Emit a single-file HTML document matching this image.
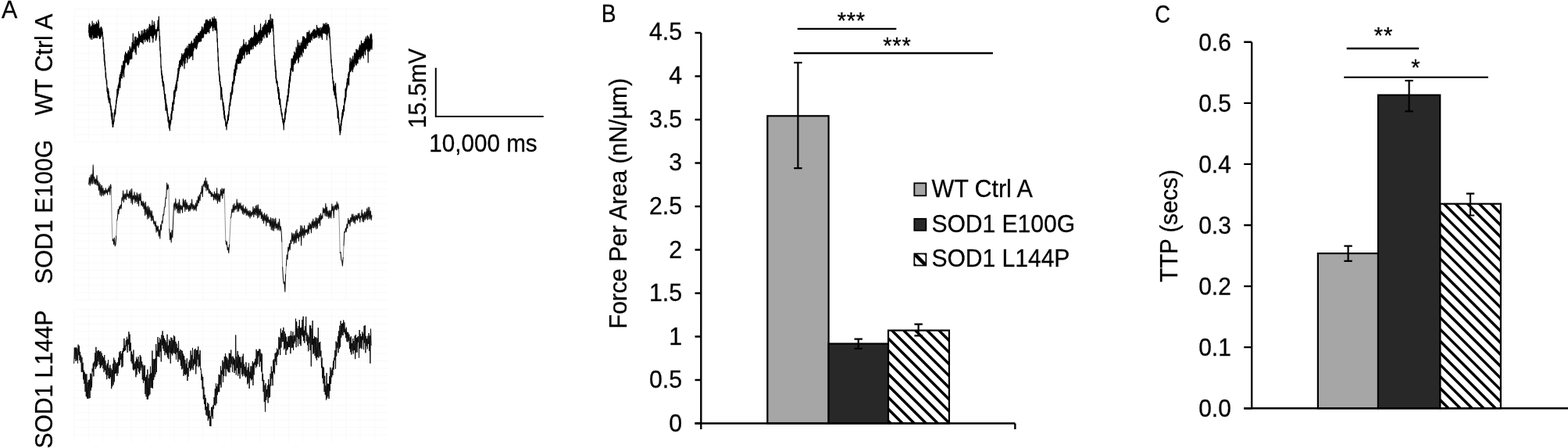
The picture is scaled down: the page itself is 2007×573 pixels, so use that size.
<!DOCTYPE html>
<html lang="en"><head><meta charset="utf-8"><title>Figure</title>
<style>
html,body{margin:0;padding:0;background:#fff;}
body{width:2007px;height:573px;overflow:hidden;}
svg{display:block;font-family:'Liberation Sans', Arial, Helvetica, sans-serif;fill:#000;}
text{stroke:#000;stroke-width:0.3px;}
</style></head><body>
<svg width="2007" height="573" viewBox="0 0 2007 573">
<g class="grid">
<path d="M95 11.5V181.5M113.3 11.5V181.5M131.6 11.5V181.5M149.9 11.5V181.5M168.2 11.5V181.5M186.5 11.5V181.5M204.8 11.5V181.5M223.1 11.5V181.5M241.4 11.5V181.5M259.7 11.5V181.5M278 11.5V181.5M296.3 11.5V181.5M314.6 11.5V181.5M332.9 11.5V181.5M351.2 11.5V181.5M369.5 11.5V181.5M387.8 11.5V181.5M406.1 11.5V181.5M424.4 11.5V181.5M442.7 11.5V181.5M461 11.5V181.5M479.3 11.5V181.5M95 11.5H497M95 20.9H497M95 30.4H497M95 39.8H497M95 49.3H497M95 58.8H497M95 68.2H497M95 77.7H497M95 87.1H497M95 96.6H497M95 106H497M95 115.5H497M95 124.9H497M95 134.4H497M95 143.8H497M95 153.2H497M95 162.7H497M95 172.1H497M95 181.6H497" stroke="#f9f9f9" stroke-width="1" fill="none"/>
<path d="M95 213.5V383.5M113.3 213.5V383.5M131.6 213.5V383.5M149.9 213.5V383.5M168.2 213.5V383.5M186.5 213.5V383.5M204.8 213.5V383.5M223.1 213.5V383.5M241.4 213.5V383.5M259.7 213.5V383.5M278 213.5V383.5M296.3 213.5V383.5M314.6 213.5V383.5M332.9 213.5V383.5M351.2 213.5V383.5M369.5 213.5V383.5M387.8 213.5V383.5M406.1 213.5V383.5M424.4 213.5V383.5M442.7 213.5V383.5M461 213.5V383.5M479.3 213.5V383.5M95 213.5H497M95 222.9H497M95 232.4H497M95 241.8H497M95 251.3H497M95 260.7H497M95 270.2H497M95 279.6H497M95 289.1H497M95 298.5H497M95 308H497M95 317.4H497M95 326.9H497M95 336.3H497M95 345.8H497M95 355.2H497M95 364.7H497M95 374.1H497M95 383.6H497" stroke="#f9f9f9" stroke-width="1" fill="none"/>
<path d="M95 395.5V565.5M113.3 395.5V565.5M131.6 395.5V565.5M149.9 395.5V565.5M168.2 395.5V565.5M186.5 395.5V565.5M204.8 395.5V565.5M223.1 395.5V565.5M241.4 395.5V565.5M259.7 395.5V565.5M278 395.5V565.5M296.3 395.5V565.5M314.6 395.5V565.5M332.9 395.5V565.5M351.2 395.5V565.5M369.5 395.5V565.5M387.8 395.5V565.5M406.1 395.5V565.5M424.4 395.5V565.5M442.7 395.5V565.5M461 395.5V565.5M479.3 395.5V565.5M95 395.5H497M95 404.9H497M95 414.4H497M95 423.8H497M95 433.3H497M95 442.7H497M95 452.2H497M95 461.6H497M95 471.1H497M95 480.5H497M95 490H497M95 499.4H497M95 508.9H497M95 518.3H497M95 527.8H497M95 537.2H497M95 546.7H497M95 556.2H497" stroke="#f9f9f9" stroke-width="1" fill="none"/>
</g>
<path class="tr" d="M113.6,41.7 113.9,32.1 114.2,45.8 114.5,30 114.8,47.7 115.1,31.4 115.4,47.4 115.7,36.9 116,49.9 116.3,34.9 116.6,47.4 116.9,33.3 117.2,44.8 117.5,33.4 117.8,50.4 118.1,27 118.4,44.6 118.7,31.9 119,43.3 119.3,37.2 119.6,48.7 119.9,29.8 120.2,48.9 120.5,32.4 120.8,43.3 121.1,37.7 121.4,47.3 121.7,30.9 122,48.4 122.3,34.9 122.6,42.5 122.9,31.4 123.2,48 123.5,28.2 123.8,41.8 124.1,32.9 124.4,48.6 124.7,30.3 125,44.4 125.3,34.8 125.6,43.8 125.9,25.6 126.2,46.1 126.5,27.9 126.8,46.4 127.1,35.8 127.4,49.3 127.7,36.8 128,49.2 128.3,37.6 128.6,48.5 128.9,35 129.2,43.8 129.5,34.3 129.8,46.5 130.1,35.5 130.4,43.7 130.7,37.2 131,43.2 131.3,40.8 131.6,50.3 131.9,47.5 132.2,60.1 132.5,54.4 132.8,68.8 133.1,63.3 133.4,78.4 133.7,69 134,84.1 134.3,78.2 134.6,89.3 134.9,86.1 135.2,99.2 135.5,92.8 135.8,101.4 136.1,100.5 136.4,107.8 136.7,102.7 137,117 137.3,111.6 137.6,119.3 137.9,113.2 138.2,125 138.5,113.5 138.8,127.6 139.1,116.6 139.4,130.9 139.7,122.4 140,131.3 140.3,125.3 140.6,132.3 140.9,126 141.2,137 141.5,132.8 141.8,140.7 142.1,135.6 142.4,148.7 142.7,139.6 143,152.5 143.3,144.8 143.6,158.1 143.9,144.5 144.2,162.5 144.5,156.2 144.8,162.1 145.1,155.1 145.4,158.4 145.7,152.5 146,155.4 146.3,143.6 146.6,149.6 146.9,140.3 147.2,147.1 147.5,139.9 147.8,145.5 148.1,134.8 148.4,137.9 148.7,128 149,132.4 149.3,123.9 149.6,128.2 149.9,114.1 150.2,124.6 150.5,114.5 150.8,121.9 151.1,109.8 151.4,119.6 151.7,107.8 152,115.5 152.3,105.3 152.6,111.4 152.9,99.1 153.2,106.8 153.5,95.4 153.8,112.3 154.1,95.9 154.4,103 154.7,92.3 155,99.3 155.3,89.4 155.6,94.7 155.9,83.7 156.2,100.1 156.5,86.6 156.8,96.7 157.1,84.1 157.4,93.4 157.7,78.5 158,87.9 158.3,80.6 158.6,98.6 158.9,77.4 159.2,88.6 159.5,71.1 159.8,86 160.1,69.2 160.4,80.5 160.7,66.4 161,76 161.3,68.5 161.6,79.4 161.9,68.4 162.2,77.2 162.5,71 162.8,81.2 163.1,69 163.4,82.8 163.7,66.4 164,82.8 164.3,64.5 164.6,81.7 164.9,67.5 165.2,79.8 165.5,66.6 165.8,71.6 166.1,59.4 166.4,75.9 166.7,61.2 167,75.9 167.3,62.8 167.6,70.9 167.9,65.1 168.2,74.7 168.5,59.8 168.8,75.2 169.1,54.6 169.4,66.7 169.7,57.3 170,65.3 170.3,42.9 170.6,65.6 170.9,57.9 171.2,62 171.5,56.5 171.8,61.9 172.1,51.9 172.4,63.1 172.7,47.4 173,66.8 173.3,48.2 173.6,63.5 173.9,47.2 174.2,69.7 174.5,54.1 174.8,58.9 175.1,51.1 175.4,58 175.7,48.3 176,57.7 176.3,49.6 176.6,56.3 176.9,49.4 177.2,60.6 177.5,40.4 177.8,57.9 178.1,49.6 178.4,56 178.7,43.7 179,53.4 179.3,46.1 179.6,52 179.9,48.5 180.2,53.5 180.5,44.8 180.8,53.8 181.1,39.3 181.4,51 181.7,44.8 182,54.4 182.3,45.3 182.6,49.7 182.9,39.2 183.2,56.2 183.5,45 183.8,50.3 184.1,42.8 184.4,50.3 184.7,37.4 185,49.3 185.3,42.8 185.6,53.3 185.9,38.3 186.2,46.7 186.5,42.2 186.8,49.5 187.1,42.5 187.4,51.1 187.7,38.4 188,46.4 188.3,37 188.6,53.1 188.9,36.5 189.2,52.7 189.5,38.8 189.8,48.9 190.1,44 190.4,46.7 190.7,34.5 191,50.3 191.3,31 191.6,53.9 191.9,31.3 192.2,43.1 192.5,37.9 192.8,45.5 193.1,33.6 193.4,45.9 193.7,33.4 194,44.4 194.3,32.1 194.6,48.5 194.9,26.2 195.2,47.6 195.5,36.8 195.8,54.1 196.1,32.5 196.4,48.9 196.7,34.8 197,43.4 197.3,27.7 197.6,44.9 197.9,30.7 198.2,40.3 198.5,37.1 198.8,43.2 199.1,37.9 199.4,51.8 199.7,39.4 200,49.8 200.3,38 200.6,46.8 200.9,37.2 201.2,40.1 201.5,34.4 201.8,38.7 202.1,26.4 202.4,39.5 202.7,25.9 203,33.6 203.3,21 203.6,38.6 203.9,37.7 204.2,52.3 204.5,46.4 204.8,64.4 205.1,59.9 205.4,73 205.7,69.1 206,86.6 206.3,84.2 206.6,95.6 206.9,90.3 207.2,100.1 207.5,94.5 207.8,105 208.1,97.3 208.4,110.1 208.7,103.4 209,109.6 209.3,104.5 209.6,115.2 209.9,107.6 210.2,120.2 210.5,116 210.8,126.7 211.1,120.4 211.4,130.9 211.7,120.9 212,141.1 212.3,126.9 212.6,136.2 212.9,132.1 213.2,141.7 213.5,134.6 213.8,145.1 214.1,138.4 214.4,148.7 214.7,145.1 215,155.2 215.3,149.2 215.6,156.5 215.9,149.6 216.2,163.1 216.5,154.3 216.8,164.5 217.1,154.8 217.4,167 217.7,153.8 218,160.2 218.3,153.2 218.6,157.8 218.9,145.6 219.2,152.5 219.5,142.7 219.8,153 220.1,137 220.4,144.6 220.7,131.1 221,141.5 221.3,132.7 221.6,141.2 221.9,128.2 222.2,133.1 222.5,116.9 222.8,132.9 223.1,115.4 223.4,126.1 223.7,116.2 224,123.5 224.3,111.3 224.6,117.9 224.9,108.4 225.2,115 225.5,105.7 225.8,115.9 226.1,102.7 226.4,112.7 226.7,99.4 227,100.7 227.3,94.5 227.6,103.5 227.9,87.3 228.2,99 228.5,88.7 228.8,94.6 229.1,82.5 229.4,90.5 229.7,78.2 230,87.7 230.3,77.7 230.6,85.2 230.9,76.6 231.2,85.3 231.5,76.2 231.8,82 232.1,72.9 232.4,82.7 232.7,68.7 233,83.1 233.3,69.9 233.6,84.6 233.9,72.6 234.2,77.6 234.5,70.4 234.8,77.4 235.1,68.4 235.4,80.5 235.7,71.4 236,87.7 236.3,67.1 236.6,77.9 236.9,63 237.2,80.9 237.5,68.3 237.8,74 238.1,61.3 238.4,73.1 238.7,61.8 239,73.5 239.3,61.7 239.6,80.1 239.9,58.8 240.2,69.6 240.5,65.1 240.8,75.5 241.1,62.4 241.4,70.8 241.7,56.4 242,69.6 242.3,57.6 242.6,74.8 242.9,56.4 243.2,72.2 243.5,56.3 243.8,72.7 244.1,60 244.4,70.5 244.7,54.3 245,71.8 245.3,52.4 245.6,70.8 245.9,58.8 246.2,65.8 246.5,55.8 246.8,76.5 247.1,55 247.4,65.5 247.7,59.3 248,63.8 248.3,49.6 248.6,59.7 248.9,54.5 249.2,60.8 249.5,50.7 249.8,60.8 250.1,47.4 250.4,58.9 250.7,49.5 251,62.7 251.3,45.4 251.6,62.4 251.9,50.9 252.2,60.5 252.5,45.9 252.8,57.2 253.1,51 253.4,54.9 253.7,42.3 254,53.5 254.3,47.3 254.6,53.6 254.9,42.7 255.2,53.1 255.5,46.6 255.8,51.9 256.1,40.4 256.4,53.1 256.7,42.2 257,51.5 257.3,39.5 257.6,52.5 257.9,37.5 258.2,48.3 258.5,34.1 258.8,48.3 259.1,35.4 259.4,45.4 259.7,38.5 260,48.2 260.3,37.8 260.6,47.1 260.9,34.8 261.2,43.2 261.5,30.9 261.8,40.2 262.1,30 262.4,42.8 262.7,33.2 263,39 263.3,26.1 263.6,43.6 263.9,25.3 264.2,35.9 264.5,26.3 264.8,42.8 265.1,25.2 265.4,40.6 265.7,26.5 266,40.1 266.3,26.9 266.6,40.6 266.9,27.5 267.2,36.3 267.5,31.2 267.8,42.3 268.1,26.1 268.4,36.2 268.7,24.6 269,35.9 269.3,24.9 269.6,35.1 269.9,27.3 270.2,33.3 270.5,28.7 270.8,32.6 271.1,28.9 271.4,32.9 271.7,22.5 272,35.9 272.3,27.9 272.6,39.5 272.9,24.2 273.2,35.3 273.5,27 273.8,34.8 274.1,21.3 274.4,34 274.7,24 275,38.3 275.3,26.2 275.6,36.5 275.9,24.1 276.2,38.6 276.5,24.7 276.8,33.9 277.1,27.6 277.4,42.3 277.7,36.5 278,53.4 278.3,49 278.6,66.6 278.9,61.6 279.2,78.6 279.5,72.8 279.8,90 280.1,85.9 280.4,96.4 280.7,93.9 281,104.2 281.3,96.9 281.6,108.6 281.9,104.2 282.2,111.7 282.5,108.3 282.8,127.3 283.1,113.9 283.4,122.9 283.7,111.9 284,123.4 284.3,121 284.6,128.8 284.9,126.4 285.2,135.6 285.5,130.2 285.8,140.6 286.1,131.6 286.4,146.5 286.7,135.5 287,151.1 287.3,141.6 287.6,152.6 287.9,147.7 288.2,154.4 288.5,152.2 288.8,161.1 289.1,155.7 289.4,159.8 289.7,158.4 290,166 290.3,157.4 290.6,158.3 290.9,153.8 291.2,158 291.5,147.8 291.8,154.3 292.1,146.1 292.4,153.4 292.7,142.5 293,148.6 293.3,134.8 293.6,141 293.9,131.7 294.2,135.3 294.5,126.9 294.8,135.1 295.1,118.7 295.4,129.2 295.7,119.8 296,126.4 296.3,115.8 296.6,119.7 296.9,111.3 297.2,120.8 297.5,104.9 297.8,118.1 298.1,104.7 298.4,109.3 298.7,102.7 299,106.4 299.3,93.4 299.6,106.8 299.9,88.9 300.2,103 300.5,90.2 300.8,97 301.1,83 301.4,96.3 301.7,81.1 302,92.8 302.3,76.4 302.6,85.7 302.9,77.4 303.2,88.6 303.5,74.3 303.8,81.5 304.1,70.2 304.4,79 304.7,71 305,80.7 305.3,69.8 305.6,81.5 305.9,67.7 306.2,78.8 306.5,64.4 306.8,80.7 307.1,62.3 307.4,75.5 307.7,62.1 308,80.7 308.3,64.4 308.6,75 308.9,59.4 309.2,76.8 309.5,65.4 309.8,72.6 310.1,60.9 310.4,75 310.7,58.6 311,68.9 311.3,57.2 311.6,70.3 311.9,50.6 312.2,69.7 312.5,56.1 312.8,74.8 313.1,63.5 313.4,68.8 313.7,57 314,65.2 314.3,61.4 314.6,64 314.9,54 315.2,66.4 315.5,58.5 315.8,70.1 316.1,58.4 316.4,69.4 316.7,57.6 317,65.3 317.3,57 317.6,63.8 317.9,59 318.2,68.7 318.5,51.6 318.8,64.3 319.1,52 319.4,69 319.7,53.3 320,64.2 320.3,49.5 320.6,58.1 320.9,53.4 321.2,62.8 321.5,48.7 321.8,58.2 322.1,47.8 322.4,63.1 322.7,51.7 323,59 323.3,48.8 323.6,59.1 323.9,51.9 324.2,62.5 324.5,47.1 324.8,58.4 325.1,45.8 325.4,57.8 325.7,32.4 326,53.4 326.3,41 326.6,58.3 326.9,47 327.2,59.6 327.5,41.8 327.8,56.7 328.1,41.9 328.4,52.6 328.7,42.8 329,56.9 329.3,46.8 329.6,55.5 329.9,44.7 330.2,54.8 330.5,41 330.8,54.5 331.1,43 331.4,52.1 331.7,39.2 332,49.4 332.3,45.3 332.6,56.6 332.9,38.1 333.2,50.2 333.5,30.6 333.8,51.2 334.1,38.7 334.4,54.4 334.7,43.7 335,45.6 335.3,39.5 335.6,51.7 335.9,35.4 336.2,47.2 336.5,34.6 336.8,46.3 337.1,38.3 337.4,44.7 337.7,32.4 338,48.7 338.3,35.4 338.6,43.4 338.9,30.5 339.2,43.7 339.5,35.9 339.8,43.2 340.1,25.9 340.4,45.6 340.7,36.2 341,47.8 341.3,32.2 341.6,41.2 341.9,31.1 342.2,47.7 342.5,29.3 342.8,37.9 343.1,30.4 343.4,41 343.7,26.2 344,40.4 344.3,32.9 344.6,44 344.9,25.7 345.2,39.8 345.5,31.8 345.8,41.2 346.1,18.4 346.4,41 346.7,29.8 347,36.2 347.3,27.6 347.6,33.6 347.9,23.9 348.2,35.7 348.5,30 348.8,34.7 349.1,24.7 349.4,39.9 349.7,31.8 350,44.4 350.3,45.3 350.6,59.7 350.9,57.5 351.2,71.2 351.5,70.4 351.8,83.8 352.1,77.1 352.4,91.8 352.7,84.5 353,100.3 353.3,90.2 353.6,105.9 353.9,100.2 354.2,105.7 354.5,103 354.8,109.2 355.1,104 355.4,116.4 355.7,111.8 356,119.4 356.3,111.5 356.6,126.8 356.9,114.1 357.2,126.8 357.5,118.6 357.8,133.6 358.1,126 358.4,132.3 358.7,126.9 359,136.9 359.3,134.4 359.6,141.9 359.9,139.4 360.2,146.1 360.5,143 360.8,148.7 361.1,144.8 361.4,153 361.7,151.2 362,156.8 362.3,152.4 362.6,159.5 362.9,154.6 363.2,166 363.5,156.8 363.8,157.5 364.1,150.7 364.4,155.5 364.7,143.1 365,152.7 365.3,139.5 365.6,146.6 365.9,137.9 366.2,143.9 366.5,131.9 366.8,136.7 367.1,127.6 367.4,134 367.7,122.7 368,127.6 368.3,122.2 368.6,129.3 368.9,113.9 369.2,124.1 369.5,107.6 369.8,119 370.1,102.1 370.4,111.8 370.7,97.9 371,105.8 371.3,93.3 371.6,103.4 371.9,87.7 372.2,96.4 372.5,87.9 372.8,90.2 373.1,75.4 373.4,89.2 373.7,75.2 374,86.4 374.3,78.6 374.6,91.4 374.9,74.9 375.2,90.8 375.5,71.3 375.8,82 376.1,74.6 376.4,82.6 376.7,66.1 377,80.1 377.3,68.3 377.6,79.8 377.9,67.9 378.2,81.1 378.5,68.9 378.8,74.2 379.1,60.3 379.4,77 379.7,62.3 380,73.5 380.3,65.3 380.6,74.4 380.9,51.4 381.2,76.2 381.5,61.9 381.8,80.5 382.1,58 382.4,78.3 382.7,54.9 383,72.7 383.3,59.1 383.6,70.9 383.9,58.6 384.2,73.2 384.5,61.2 384.8,70.3 385.1,54.6 385.4,69.6 385.7,55.8 386,65 386.3,57.7 386.6,72.1 386.9,52.3 387.2,64 387.5,47.1 387.8,65.5 388.1,46.5 388.4,67.3 388.7,50.7 389,61.6 389.3,47.4 389.6,61.1 389.9,48.1 390.2,62.1 390.5,50.1 390.8,62.3 391.1,49.6 391.4,61.8 391.7,51.5 392,61.8 392.3,48.7 392.6,56.2 392.9,41.6 393.2,53.2 393.5,46.7 393.8,58.5 394.1,41.2 394.4,54.3 394.7,47.2 395,54.3 395.3,41.3 395.6,51 395.9,39.2 396.2,53.8 396.5,43.8 396.8,49.2 397.1,44.1 397.4,54.1 397.7,44.4 398,50.1 398.3,42.2 398.6,49.1 398.9,42.1 399.2,51.5 399.5,43.1 399.8,48.2 400.1,39.8 400.4,45.8 400.7,40.1 401,44.1 401.3,37.9 401.6,49.2 401.9,41.9 402.2,48.9 402.5,37.8 402.8,47.8 403.1,37.5 403.4,48.3 403.7,39.4 404,46.5 404.3,39.4 404.6,47.5 404.9,40.4 405.2,47.4 405.5,32.4 405.8,46.9 406.1,35.5 406.4,43.9 406.7,35.6 407,43.6 407.3,39.6 407.6,45.5 407.9,36.5 408.2,48.7 408.5,37.1 408.8,45.2 409.1,35.7 409.4,43.1 409.7,39.2 410,47.5 410.3,40 410.6,45.2 410.9,35 411.2,45.6 411.5,37.2 411.8,47.9 412.1,36.7 412.4,50.5 412.7,34.8 413,40 413.3,33.5 413.6,41.7 413.9,30 414.2,42.7 414.5,32 414.8,40.3 415.1,31.8 415.4,42.2 415.7,31.1 416,42.3 416.3,29.8 416.6,43.2 416.9,32.4 417.2,40.4 417.5,32.8 417.8,44 418.1,29.4 418.4,50.9 418.7,33.7 419,45.3 419.3,31.4 419.6,42.9 419.9,35.2 420.2,40.7 420.5,31.4 420.8,41.4 421.1,34 421.4,47.5 421.7,35.9 422,48.7 422.3,46.6 422.6,57 422.9,59.9 423.2,67.6 423.5,69.8 423.8,80.3 424.1,76.2 424.4,84.9 424.7,83.5 425,93.1 425.3,87.3 425.6,101 425.9,98.5 426.2,106.8 426.5,104.4 426.8,115.4 427.1,103.9 427.4,117.5 427.7,108.1 428,121.5 428.3,110.5 428.6,121 428.9,112.3 429.2,126 429.5,106.7 429.8,124.3 430.1,118.9 430.4,130.7 430.7,124.8 431,136.3 431.3,132.5 431.6,139.8 431.9,135.6 432.2,151.1 432.5,138.6 432.8,150.5 433.1,141.6 433.4,156.3 433.7,150.5 434,159.4 434.3,159.4 434.6,167.4 434.9,161.2 435.2,172.5 435.5,163.2 435.8,169.7 436.1,158 436.4,166.5 436.7,154.2 437,160.4 437.3,149.7 437.6,155.1 437.9,144.1 438.2,151.9 438.5,140.3 438.8,149.4 439.1,142.3 439.4,147 439.7,135.6 440,141.8 440.3,134.5 440.6,142.1 440.9,125.9 441.2,132.8 441.5,125.1 441.8,130.2 442.1,113.5 442.4,127.7 442.7,117 443,124.1 443.3,111.2 443.6,116 443.9,105.4 444.2,113 444.5,100.6 444.8,110.4 445.1,101.1 445.4,107.3 445.7,94.6 446,104 446.3,92.5 446.6,108.8 446.9,91.8 447.2,96.9 447.5,81.7 447.8,91.8 448.1,74 448.4,91.8 448.7,80.5 449,89.9 449.3,79.3 449.6,90.8 449.9,75.1 450.2,84.1 450.5,77.1 450.8,88.5 451.1,80.4 451.4,91.8 451.7,71.9 452,88.3 452.3,77.2 452.6,83.7 452.9,76.7 453.2,85.6 453.5,67.6 453.8,83.8 454.1,73.7 454.4,76.6 454.7,68.8 455,80.6 455.3,67.3 455.6,82.6 455.9,63 456.2,83.6 456.5,69.3 456.8,79.1 457.1,63.4 457.4,80.4 457.7,70.5 458,81.1 458.3,64.6 458.6,73.9 458.9,65.6 459.2,75.6 459.5,61.3 459.8,72.5 460.1,58.9 460.4,72.7 460.7,57.1 461,76.1 461.3,64.8 461.6,70.1 461.9,58.7 462.2,73.9 462.5,52.1 462.8,71.8 463.1,61.7 463.4,65.9 463.7,55.5 464,71.1 464.3,56.6 464.6,71 464.9,55.6 465.2,74.3 465.5,59.4 465.8,68.9 466.1,53.3 466.4,65.2 466.7,58.8 467,64 467.3,49.9 467.6,70.2 467.9,56.8 468.2,62 468.5,47.1 468.8,63.7 469.1,54.1 469.4,61.2 469.7,50.2 470,62.1 470.3,45.6 470.6,65.4 470.9,46.8 471.2,79.9 471.5,47.1 471.8,64.8 472.1,48.6 472.4,63.3 472.7,52.7 473,65.8 473.3,50.3 473.6,61.1 473.9,44.4 474.2,63.2 474.5,45.8 474.8,61.3 475.1,42.9 475.4,61.1 475.7,44.7 476,63.2 476.3,50.6" stroke="#000" stroke-width="1.2" fill="none" stroke-linejoin="round"/>
<path class="tr" d="M142.4,240.9 143.2,284.5 144,308.1M148.8,301.4 149.6,282.4M216,241.7 216.8,292.2M287.2,241 288,275.5 288.8,307.3M293.6,312.2 294.4,297.9 295.2,279.4M360.8,309.6 361.6,341.1M365.6,350.5 366.4,340.5M433.6,267.1 434.4,289.5 435.2,323.8M439.2,329 440,314.4" stroke="#777" stroke-width="0.8" fill="none"/>
<path class="tr" d="M113.6,236.3 114.4,227 115.2,237.4 116,223.7 116.8,235.3 117.6,222.8 118.4,235.3 119.2,210.9 120,234.4 120.8,226.2 121.6,235.8 122.4,228.9 123.2,236.5 124,224.2 124.8,237.2 125.6,231.6 126.4,243.4 127.2,233.5 128,249.5 128.8,235.7 129.6,251 130.4,237.2 131.2,249.8 132,240.3 132.8,250.3 133.6,243.6 134.4,248.2 135.2,240.6 136,247 136.8,242.9 137.6,249.3 138.4,240.8 139.2,245.2 140,237.7 140.8,249.1 141.6,235.7 142.4,240.9M144,308.1 144.8,305.5 145.6,312.8 146.4,304.1 147.2,314.8 148,312.6 148.8,301.4M149.6,282.4 150.4,279.4 151.2,267.6 152,273.8 152.8,263.9 153.6,267.5 154.4,262 155.2,267 156,252.8 156.8,256.4 157.6,243.7 158.4,258.6 159.2,248.1 160,254.6 160.8,247.7 161.6,255.4 162.4,242.8 163.2,251.6 164,248 164.8,253.7 165.6,244.5 166.4,253.8 167.2,242.6 168,259.5 168.8,241.4 169.6,261.3 170.4,250.2 171.2,255 172,245.6 172.8,259.5 173.6,249.9 174.4,257.9 175.2,246.4 176,260.6 176.8,248.2 177.6,263.7 178.4,248.2 179.2,256.7 180,247 180.8,262.7 181.6,257.5 182.4,264.1 183.2,257.3 184,267.1 184.8,259.2 185.6,275.5 186.4,258.2 187.2,274.2 188,264.4 188.8,280.3 189.6,263.4 190.4,279.2 191.2,265.3 192,277.6 192.8,269 193.6,282.4 194.4,269.7 195.2,282 196,276.1 196.8,286.5 197.6,282.9 198.4,289.3 199.2,283 200,297.2 200.8,288.4 201.6,295.6 202.4,289.2 203.2,302.1 204,293.7 204.8,305.3 205.6,287.5 206.4,294.2 207.2,282.5 208,285.4 208.8,274.4 209.6,275.1 210.4,265.1 211.2,264.9 212,252.9 212.8,253.7 213.6,234.1 214.4,242.5 215.2,236.1 216,241.7M216.8,292.2 217.6,306.7 218.4,297.6 219.2,310.1 220,294.6 220.8,304 221.6,284.1 222.4,263.5 223.2,259.3 224,269 224.8,253.9 225.6,267 226.4,260.5 227.2,272.2 228,259.1 228.8,272.8 229.6,255 230.4,272.6 231.2,262.4 232,268 232.8,263.3 233.6,272.1 234.4,254.2 235.2,264.7 236,256.1 236.8,270.5 237.6,255.6 238.4,268 239.2,259 240,267.7 240.8,262.3 241.6,270.5 242.4,262.4 243.2,269.8 244,260.1 244.8,267.4 245.6,254.9 246.4,267.3 247.2,261.5 248,269.3 248.8,262.5 249.6,268.1 250.4,259.7 251.2,269.8 252,256 252.8,263.8 253.6,251.3 254.4,259.6 255.2,248.7 256,256.6 256.8,246.1 257.6,247.6 258.4,237.9 259.2,251.6 260,236 260.8,238.2 261.6,231.5 262.4,239.7 263.2,227.2 264,244 264.8,231.5 265.6,242.9 266.4,236.1 267.2,247.1 268,242.1 268.8,247.7 269.6,244.6 270.4,251.6 271.2,246.2 272,251.3 272.8,248.4 273.6,255.9 274.4,245.1 275.2,254.9 276,247.5 276.8,256.1 277.6,240.5 278.4,260.1 279.2,247.5 280,257.7 280.8,248.2 281.6,258.3 282.4,242.6 283.2,250.2 284,240.8 284.8,253.9 285.6,241.5 286.4,247.4 287.2,241M288.8,307.3 289.6,313 290.4,309.1 291.2,319.8 292,316.6 292.8,323.6 293.6,312.2M295.2,279.4 296,276.6 296.8,267.6 297.6,271.7 298.4,262.1 299.2,271.8 300,260.2 300.8,268.8 301.6,263.4 302.4,267.3 303.2,254.9 304,270.6 304.8,259.4 305.6,270.1 306.4,259.8 307.2,267.1 308,259.5 308.8,269 309.6,263.4 310.4,273.2 311.2,262 312,274.4 312.8,266.7 313.6,272.5 314.4,264.5 315.2,275.5 316,267 316.8,275.3 317.6,269.8 318.4,276.9 319.2,269.3 320,279.1 320.8,269.8 321.6,277 322.4,271.2 323.2,274.9 324,264.4 324.8,277.6 325.6,266.6 326.4,274.4 327.2,263.2 328,275.5 328.8,262.4 329.6,279 330.4,261.7 331.2,278 332,267.2 332.8,275.1 333.6,267.5 334.4,279.8 335.2,271 336,282.5 336.8,274.2 337.6,285.8 338.4,272.6 339.2,282.3 340,274.9 340.8,288.9 341.6,274.1 342.4,284.6 343.2,277.2 344,284.9 344.8,281.1 345.6,289.4 346.4,278.3 347.2,293.8 348,279.5 348.8,294.6 349.6,279.4 350.4,295.1 351.2,280.2 352,292.2 352.8,278.9 353.6,292 354.4,286.2 355.2,294.3 356,284.1 356.8,294.2 357.6,280 358.4,295.1 359.2,289.5 360,294.2 360.8,309.6M361.6,341.1 362.4,355.5 363.2,362.7 364,360.5 364.8,373.2 365.6,350.5M366.4,340.5 367.2,325.9 368,331.6 368.8,316.1 369.6,321.1 370.4,311.5 371.2,319.5 372,307.1 372.8,311.7 373.6,297.8 374.4,308.5 375.2,298.9 376,311.9 376.8,298.9 377.6,310.5 378.4,295.6 379.2,310.7 380,293.5 380.8,304.8 381.6,298.3 382.4,308.5 383.2,296.5 384,302.7 384.8,288.4 385.6,314 386.4,288.8 387.2,301.5 388,291.9 388.8,304.2 389.6,288.6 390.4,300.9 391.2,293.7 392,297.4 392.8,293.3 393.6,300 394.4,288.2 395.2,298.8 396,284.9 396.8,293.1 397.6,286.6 398.4,298 399.2,283.1 400,291.5 400.8,280.1 401.6,291.8 402.4,283 403.2,291 404,278.3 404.8,292.9 405.6,278.8 406.4,292.1 407.2,279.1 408,285.6 408.8,275.3 409.6,288.7 410.4,273.1 411.2,281.1 412,275.8 412.8,279.4 413.6,265.7 414.4,272.3 415.2,266.7 416,276.1 416.8,260.3 417.6,276.5 418.4,264.8 419.2,277.1 420,269.7 420.8,279.4 421.6,269 422.4,278.3 423.2,269 424,279.1 424.8,260.7 425.6,269.3 426.4,264.1 427.2,278.6 428,262.9 428.8,268 429.6,262 430.4,268.7 431.2,258.1 432,268.3 432.8,260.5 433.6,267.1M435.2,323.8 436,322.3 436.8,332.8 437.6,332.9 438.4,340.1 439.2,329M440,314.4 440.8,296.3 441.6,297.2 442.4,291.8 443.2,296.7 444,286.5 444.8,292 445.6,279.2 446.4,286.1 447.2,281.3 448,289.1 448.8,278.3 449.6,283.9 450.4,274.1 451.2,283.3 452,273.7 452.8,284.7 453.6,276.3 454.4,286.3 455.2,275.1 456,281.3 456.8,275.3 457.6,282 458.4,272.9 459.2,279.4 460,272.5 460.8,284.2 461.6,276.4 462.4,278.1 463.2,268.4 464,283.5 464.8,273 465.6,283.9 466.4,271.2 467.2,281.3 468,270.8 468.8,280 469.6,266.7 470.4,281.3 471.2,265 472,280.2 472.8,265 473.6,280 474.4,269.9 475.2,281.6 476,275.3" stroke="#111" stroke-width="1.05" fill="none" stroke-linejoin="round"/>
<path class="tr" d="M94.7,465.1 95.3,444.5 95.9,459.3 96.5,444.8 97.1,462 97.7,444.3 98.3,460.6 98.9,445.6 99.5,464.7 100.1,440.7 100.7,454.3 101.3,442.4 101.9,460.8 102.5,449.9 103.1,463.6 103.7,454.6 104.3,475.9 104.9,457 105.5,475.5 106.1,463.9 106.7,485.4 107.3,473.7 107.9,490.8 108.5,476.4 109.1,501 109.7,478.5 110.3,507.2 110.9,478.4 111.5,509.6 112.1,489 112.7,509.9 113.3,486.1 113.9,509.5 114.5,485.5 115.1,509.1 115.7,477.6 116.3,499.4 116.9,478.5 117.5,495.4 118.1,471.5 118.7,475.5 119.3,464.5 119.9,481.4 120.5,462.4 121.1,468.4 121.7,451.4 122.3,472 122.9,443.9 123.5,469.4 124.1,449.2 124.7,467.7 125.3,448.4 125.9,462.3 126.5,448.2 127.1,466.3 127.7,449.8 128.3,470.9 128.9,449.2 129.5,469.3 130.1,451.6 130.7,467.1 131.3,455.1 131.9,471.2 132.5,457.3 133.1,475.9 133.7,454 134.3,473.5 134.9,461.3 135.5,478.9 136.1,467.5 136.7,485.2 137.3,464.8 137.9,480.2 138.5,460.4 139.1,483.9 139.7,470.7 140.3,484.5 140.9,466.8 141.5,482.3 142.1,471.1 142.7,497.2 143.3,473.1 143.9,494.2 144.5,465.3 145.1,492.1 145.7,457.6 146.3,488.4 146.9,460.5 147.5,478 148.1,463.3 148.7,477.4 149.3,464.8 149.9,480.9 150.5,463.3 151.1,477.5 151.7,457.5 152.3,468.1 152.9,450.3 153.5,467 154.1,449 154.7,460.1 155.3,452.4 155.9,470 156.5,448.9 157.1,468.7 157.7,445.4 158.3,450 158.9,432.9 159.5,448.8 160.1,441.8 160.7,448.1 161.3,435.4 161.9,442.7 162.5,430.8 163.1,451 163.7,433.8 164.3,440.6 164.9,424.2 165.5,449.3 166.1,427.5 166.7,448.4 167.3,438.5 167.9,462.4 168.5,449.7 169.1,465.1 169.7,453.3 170.3,472.7 170.9,447.6 171.5,474.1 172.1,464.8 172.7,472.1 173.3,462.3 173.9,482.3 174.5,456.7 175.1,479.3 175.7,459.5 176.3,471.1 176.9,456.3 177.5,475.6 178.1,462.9 178.7,477.8 179.3,454 179.9,473.7 180.5,455.9 181.1,470.2 181.7,462.5 182.3,485.5 182.9,466.3 183.5,490 184.1,468 184.7,487 185.3,467.1 185.9,504.1 186.5,482.5 187.1,507.3 187.7,479.6 188.3,510.9 188.9,472.6 189.5,510.5 190.1,483.6 190.7,506.2 191.3,478.8 191.9,504.4 192.5,468.6 193.1,496.1 193.7,477.3 194.3,495.9 194.9,448.5 195.5,496.8 196.1,459 196.7,485.9 197.3,459.6 197.9,482.3 198.5,458.7 199.1,478.8 199.7,440.1 200.3,476 200.9,448.7 201.5,455.6 202.1,431.1 202.7,455.9 203.3,438.1 203.9,456.7 204.5,432.1 205.1,449.9 205.7,434.3 206.3,462.6 206.9,428.4 207.5,441.4 208.1,423.3 208.7,446.1 209.3,429.4 209.9,449 210.5,432.8 211.1,454.3 211.7,434.9 212.3,451.1 212.9,437.7 213.5,453.4 214.1,427.7 214.7,457.3 215.3,441.8 215.9,459.2 216.5,434.2 217.1,451.1 217.7,436.1 218.3,464.9 218.9,431.6 219.5,452.3 220.1,432.5 220.7,454.6 221.3,435.2 221.9,451.6 222.5,428.9 223.1,451.6 223.7,430.4 224.3,452.9 224.9,437 225.5,459.8 226.1,439.6 226.7,450.6 227.3,445.1 227.9,462.9 228.5,436.2 229.1,459.3 229.7,449 230.3,460.4 230.9,446.8 231.5,468 232.1,448.1 232.7,472.4 233.3,448.8 233.9,471.4 234.5,452.7 235.1,480.8 235.7,455.3 236.3,478.6 236.9,460.2 237.5,479.8 238.1,465.4 238.7,478.4 239.3,458.4 239.9,487.1 240.5,470.7 241.1,481.6 241.7,462.8 242.3,470.5 242.9,460.5 243.5,474.6 244.1,448.5 244.7,472.9 245.3,454.2 245.9,470.7 246.5,444.9 247.1,473.1 247.7,459.5 248.3,467.5 248.9,447.3 249.5,465.4 250.1,445.9 250.7,478.4 251.3,448.1 251.9,468.4 252.5,447.7 253.1,459.9 253.7,443.1 254.3,469.5 254.9,453.2 255.5,468.1 256.1,448.1 256.7,472.7 257.3,471.7 257.9,486.3 258.5,478.6 259.1,497.5 259.7,481.9 260.3,510.5 260.9,494.8 261.5,517 262.1,504.8 262.7,524.3 263.3,509.2 263.9,530.7 264.5,520.3 265.1,531.9 265.7,514.9 266.3,538.1 266.9,516.4 267.5,535.2 268.1,525.1 268.7,545 269.3,532.4 269.9,545.2 270.5,520.9 271.1,532.4 271.7,520.4 272.3,535.5 272.9,518 273.5,523.1 274.1,508 274.7,518.1 275.3,497.3 275.9,518.6 276.5,490.4 277.1,516.2 277.7,494.3 278.3,505.1 278.9,491 279.5,501.3 280.1,478.9 280.7,501.3 281.3,479.9 281.9,492.1 282.5,468.3 283.1,495.6 283.7,473.8 284.3,478.8 284.9,460.8 285.5,489 286.1,463 286.7,480.9 287.3,456 287.9,471.7 288.5,452.1 289.1,481.3 289.7,456.1 290.3,472.2 290.9,457.9 291.5,474.9 292.1,460.3 292.7,476.2 293.3,451.7 293.9,476.4 294.5,452.1 295.1,469.9 295.7,447.5 296.3,465.4 296.9,456.3 297.5,475.9 298.1,455.7 298.7,466.5 299.3,457.9 299.9,477 300.5,459.9 301.1,473.8 301.7,428.5 302.3,479.5 302.9,456.3 303.5,470.5 304.1,449 304.7,480.7 305.3,453.8 305.9,477.9 306.5,456.7 307.1,484.3 307.7,456.6 308.3,470.5 308.9,463.4 309.5,478.8 310.1,455.8 310.7,481.3 311.3,452.6 311.9,478.3 312.5,465.7 313.1,480.7 313.7,469 314.3,482.8 314.9,463.3 315.5,481.4 316.1,473.1 316.7,491.4 317.3,469.8 317.9,489.9 318.5,464.4 319.1,497 319.7,475.6 320.3,483.8 320.9,468.3 321.5,486.6 322.1,468.5 322.7,485.2 323.3,462.2 323.9,492.9 324.5,464.6 325.1,479.5 325.7,462.7 326.3,466.5 326.9,458.8 327.5,470.6 328.1,446.8 328.7,468.7 329.3,449 329.9,465.8 330.5,448.9 331.1,455.6 331.7,446.5 332.3,469.2 332.9,446.7 333.5,462.4 334.1,451.6 334.7,475.4 335.3,452.7 335.9,487.4 336.5,478 337.1,501.2 337.7,485.9 338.3,514 338.9,492.8 339.5,526.6 340.1,490.3 340.7,511.8 341.3,498.1 341.9,507.7 342.5,492.8 343.1,515.4 343.7,485 344.3,508.9 344.9,491.6 345.5,507.9 346.1,477.9 346.7,493.5 347.3,468.6 347.9,484.2 348.5,475 349.1,493.2 349.7,460.7 350.3,476.4 350.9,459.1 351.5,478.4 352.1,451.8 352.7,462.4 353.3,450.7 353.9,467.1 354.5,445.6 355.1,456.1 355.7,447.1 356.3,453.6 356.9,430.9 357.5,446.9 358.1,432 358.7,454.1 359.3,420.3 359.9,444.7 360.5,425.8 361.1,437.3 361.7,422.5 362.3,436.9 362.9,418.8 363.5,447.3 364.1,423.9 364.7,445.6 365.3,426.8 365.9,454 366.5,430.8 367.1,448.3 367.7,436.8 368.3,446.6 368.9,430.4 369.5,444 370.1,429.9 370.7,444 371.3,429.2 371.9,452.2 372.5,423.4 373.1,444.9 373.7,429.6 374.3,444.6 374.9,424.2 375.5,448 376.1,429.5 376.7,439.2 377.3,428.6 377.9,436.6 378.5,407.6 379.1,444.2 379.7,411.4 380.3,431.3 380.9,419.9 381.5,442.8 382.1,417 382.7,433.5 383.3,409.1 383.9,440.1 384.5,419.5 385.1,442.3 385.7,418.8 386.3,428.7 386.9,408.9 387.5,430.6 388.1,404.7 388.7,436.1 389.3,422.7 389.9,438.7 390.5,417 391.1,428.9 391.7,404.9 392.3,436.4 392.9,425.7 393.5,441.3 394.1,428.4 394.7,449.3 395.3,430.8 395.9,439 396.5,415.9 397.1,448 397.7,416.4 398.3,468.6 398.9,420.3 399.5,440.8 400.1,410.1 400.7,452.9 401.3,433.1 401.9,451.6 402.5,429.9 403.1,455.2 403.7,431.4 404.3,458.3 404.9,431.6 405.5,461 406.1,432.7 406.7,456.5 407.3,419.1 407.9,457.7 408.5,438.4 409.1,455.5 409.7,437 410.3,456.1 410.9,448.6 411.5,470.4 412.1,457.7 412.7,483.6 413.3,468.8 413.9,490.5 414.5,470 415.1,501.2 415.7,480.8 416.3,504.9 416.9,493.3 417.5,511.6 418.1,477 418.7,509.5 419.3,490.7 419.9,507.3 420.5,490.9 421.1,510 421.7,481.3 422.3,500.2 422.9,469.9 423.5,490.9 424.1,473.2 424.7,482.5 425.3,470.6 425.9,479.9 426.5,461.7 427.1,472.7 427.7,457.7 428.3,460.8 428.9,447.9 429.5,471.7 430.1,436.6 430.7,455.5 431.3,438.2 431.9,444.9 432.5,430 433.1,451.2 433.7,423.3 434.3,446.1 434.9,416.6 435.5,443.7 436.1,410.4 436.7,431.8 437.3,414 437.9,428.8 438.5,413.4 439.1,428.9 439.7,409.5 440.3,424.8 440.9,412.4 441.5,427.3 442.1,420.7 442.7,432.2 443.3,418.7 443.9,436.7 444.5,424.7 445.1,437.5 445.7,425.3 446.3,435.9 446.9,427.6 447.5,446.2 448.1,431.5 448.7,450.4 449.3,430.2 449.9,453.6 450.5,439.2 451.1,448.6 451.7,432.9 452.3,452.5 452.9,436 453.5,447.9 454.1,429.6 454.7,459.2 455.3,428.1 455.9,450.6 456.5,432.3 457.1,450.7 457.7,430.8 458.3,437.8 458.9,430 459.5,457.6 460.1,422 460.7,445.6 461.3,427.1 461.9,444.7 462.5,430.3 463.1,446.3 463.7,424.4 464.3,434.7 464.9,426.7 465.5,447.1 466.1,416.8 466.7,438.6 467.3,416 467.9,451.3 468.5,429.9 469.1,442.7 469.7,433.2 470.3,446.4 470.9,429.7 471.5,439.7 472.1,426.1 472.7,449 473.3,429.4 473.9,464.8 474.5,420.6 475.1,442.1" stroke="#050505" stroke-width="0.95" fill="none" stroke-linejoin="round"/>
<text id="A" transform="translate(2.1 22.7) scale(0.950 1)" font-size="32">A</text>
<text id="B" transform="translate(769.8 27.8) scale(0.880 1)" font-size="32">B</text>
<text id="C" transform="translate(1478.3 29) scale(0.850 1)" font-size="32">C</text>
<text id="l1" transform="translate(67.2 147.5) rotate(-90) scale(0.938 1)" font-size="32.0" word-spacing="1.0">WT Ctrl A</text>
<text id="l2" transform="translate(67.2 363.2) rotate(-90) scale(0.943 1)" font-size="32.0">SOD1 E100G</text>
<text id="l3" transform="translate(67.2 573.6) rotate(-90) scale(0.938 1)" font-size="32.0">SOD1 L144P</text>
<text id="mv" transform="translate(544.5 164) rotate(-90) scale(0.947 1)" font-size="31.3">15.5mV</text>
<text id="ms" transform="translate(549.3 193.9) scale(0.947 1)" font-size="31.3">10,000 ms</text>
<path d="M557.8 86.8V149.1H695.7" stroke="#000" stroke-width="2" fill="none"/>
<path d="M897.3 42V541.5M889.5 541.5H897.3M889.5 486H897.3M889.5 430.5H897.3M889.5 375H897.3M889.5 319.5H897.3M889.5 264H897.3M889.5 208.5H897.3M889.5 153H897.3M889.5 97.5H897.3M889.5 42H897.3" stroke="#000" stroke-width="2.4" fill="none"/>
<text class="tb" transform="translate(873 552.1) scale(0.990 1)" font-size="30.6" text-anchor="end">0</text>
<text class="tb" transform="translate(873 496.4) scale(0.990 1)" font-size="30.6" text-anchor="end">0.5</text>
<text class="tb" transform="translate(873 440.8) scale(0.990 1)" font-size="30.6" text-anchor="end">1</text>
<text class="tb" transform="translate(873 385.1) scale(0.990 1)" font-size="30.6" text-anchor="end">1.5</text>
<text class="tb" transform="translate(873 329.5) scale(0.990 1)" font-size="30.6" text-anchor="end">2</text>
<text class="tb" transform="translate(873 273.8) scale(0.990 1)" font-size="30.6" text-anchor="end">2.5</text>
<text class="tb" transform="translate(873 218.1) scale(0.990 1)" font-size="30.6" text-anchor="end">3</text>
<text class="tb" transform="translate(873 162.5) scale(0.990 1)" font-size="30.6" text-anchor="end">3.5</text>
<text class="tb" transform="translate(873 106.8) scale(0.990 1)" font-size="30.6" text-anchor="end">4</text>
<text class="tb" transform="translate(873 51.2) scale(0.990 1)" font-size="30.6" text-anchor="end">4.5</text>
<rect x="982.3" y="148.3" width="78.3" height="393.2" fill="#a6a6a6" stroke="#000" stroke-width="2.2"/>
<rect x="1060.6" y="439.6" width="76.7" height="101.9" fill="#282828" stroke="#000" stroke-width="2.2"/>
<clipPath id="tbh"><rect x="1137" y="422.6" width="77.9" height="118.9"/></clipPath><rect x="1137" y="422.6" width="77.9" height="118.9" fill="#fff"/><path d="M1134 324.7L1217.9 408.6M1134 339.8L1217.9 423.7M1134 354.8L1217.9 438.7M1134 369.8L1217.9 453.8M1134 384.9L1217.9 468.8M1134 399.9L1217.9 483.8M1134 415L1217.9 498.9M1134 430L1217.9 513.9M1134 445.1L1217.9 529M1134 460.1L1217.9 544M1134 475.2L1217.9 559.1M1134 490.2L1217.9 574.1M1134 505.3L1217.9 589.2M1134 520.3L1217.9 604.2M1134 535.4L1217.9 619.3M1134 550.4L1217.9 634.3" stroke="#000" stroke-width="3.5" fill="none" clip-path="url(#tbh)"/><rect x="1137" y="422.6" width="77.9" height="118.9" fill="none" stroke="#000" stroke-width="2.2"/>
<path d="M1021.4 80.2V215.2M1016.2 80.2H1026.6M1016.2 215.2H1026.6" stroke="#000" stroke-width="2.2" fill="none"/>
<path d="M1098.7 433.7V445.8M1093.5 433.7H1103.9M1093.5 445.8H1103.9" stroke="#000" stroke-width="2.2" fill="none"/>
<path d="M1175.6 414.7V429.3M1170.4 414.7H1180.8M1170.4 429.3H1180.8" stroke="#000" stroke-width="2.2" fill="none"/>
<path d="M889.5 541.5H1299.3M897.3 541.5V549M1299.3 541.5V549" stroke="#000" stroke-width="2.4" fill="none"/>
<path d="M1020.7 36.8H1147.3M1016 68H1270.9" stroke="#000" stroke-width="2.3" fill="none"/>
<text id="fb" transform="translate(802 420.5) rotate(-90) scale(0.963 1)" font-size="31.3">Force Per Area (nN/µm)</text>
<text id="s1" transform="translate(1089.8 36.2)" font-size="29.0" text-anchor="middle" letter-spacing="0.8">***</text>
<text id="s2" transform="translate(1148.4 67.6)" font-size="29.0" text-anchor="middle" letter-spacing="0.8">***</text>
<rect x="1170.3" y="234.3" width="15" height="16" fill="#a6a6a6" stroke="#000" stroke-width="1.8"/>
<rect x="1170.3" y="279.8" width="15" height="15" fill="#282828" stroke="#000" stroke-width="1.8"/>
<clipPath id="lgh"><rect x="1170.3" y="324.5" width="15" height="15"/></clipPath><rect x="1170.3" y="324.5" width="15" height="15" fill="#fff"/><path d="M1167.3 291.4L1188.3 312.4M1167.3 306.4L1188.3 327.4M1167.3 321.5L1188.3 342.5M1167.3 336.5L1188.3 357.5" stroke="#000" stroke-width="4.6" fill="none" clip-path="url(#lgh)"/><rect x="1170.3" y="324.5" width="15" height="15" fill="none" stroke="#000" stroke-width="1.8"/>
<text id="g1" transform="translate(1192.5 252.3) scale(0.990 1)" font-size="30.7">WT Ctrl A</text>
<text id="g2" transform="translate(1192.5 296.6) scale(0.978 1)" font-size="30.7">SOD1 E100G</text>
<text id="g3" transform="translate(1192.5 340.6) scale(0.978 1)" font-size="30.7">SOD1 L144P</text>
<path d="M1602.2 53.8V522.2M1592.2 522.2H1602.2M1592.2 444.1H1602.2M1592.2 366.1H1602.2M1592.2 288H1602.2M1592.2 209.9H1602.2M1592.2 131.9H1602.2M1592.2 53.8H1602.2" stroke="#000" stroke-width="2.4" fill="none"/>
<text class="tc" transform="translate(1575.8 533) scale(0.978 1)" font-size="30.6" text-anchor="end">0.0</text>
<text class="tc" transform="translate(1575.8 454.9) scale(0.978 1)" font-size="30.6" text-anchor="end">0.1</text>
<text class="tc" transform="translate(1575.8 376.9) scale(0.978 1)" font-size="30.6" text-anchor="end">0.2</text>
<text class="tc" transform="translate(1575.8 298.8) scale(0.978 1)" font-size="30.6" text-anchor="end">0.3</text>
<text class="tc" transform="translate(1575.8 220.7) scale(0.978 1)" font-size="30.6" text-anchor="end">0.4</text>
<text class="tc" transform="translate(1575.8 142.7) scale(0.978 1)" font-size="30.6" text-anchor="end">0.5</text>
<text class="tc" transform="translate(1575.8 64.6) scale(0.978 1)" font-size="30.6" text-anchor="end">0.6</text>
<rect x="1686.9" y="324.1" width="77.1" height="198.1" fill="#a6a6a6" stroke="#000" stroke-width="2.2"/>
<rect x="1764" y="121.6" width="79.2" height="400.6" fill="#282828" stroke="#000" stroke-width="2.2"/>
<clipPath id="tch"><rect x="1843.4" y="260.7" width="77.5" height="261.5"/></clipPath><rect x="1843.4" y="260.7" width="77.5" height="261.5" fill="#fff"/><path d="M1840.4 162.5L1923.9 246M1840.4 177.6L1923.9 261.1M1840.4 192.6L1923.9 276.1M1840.4 207.7L1923.9 291.2M1840.4 222.7L1923.9 306.2M1840.4 237.8L1923.9 321.2M1840.4 252.8L1923.9 336.3M1840.4 267.8L1923.9 351.3M1840.4 282.9L1923.9 366.4M1840.4 297.9L1923.9 381.4M1840.4 313L1923.9 396.5M1840.4 328L1923.9 411.5M1840.4 343.1L1923.9 426.6M1840.4 358.1L1923.9 441.6M1840.4 373.2L1923.9 456.7M1840.4 388.2L1923.9 471.7M1840.4 403.3L1923.9 486.8M1840.4 418.3L1923.9 501.8M1840.4 433.4L1923.9 516.9M1840.4 448.4L1923.9 531.9M1840.4 463.5L1923.9 547M1840.4 478.5L1923.9 562M1840.4 493.6L1923.9 577.1M1840.4 508.6L1923.9 592.1M1840.4 523.7L1923.9 607.2" stroke="#000" stroke-width="3.5" fill="none" clip-path="url(#tch)"/><rect x="1843.4" y="260.7" width="77.5" height="261.5" fill="none" stroke="#000" stroke-width="2.2"/>
<path d="M1725.6 314.7V333.9M1720.4 314.7H1730.8M1720.4 333.9H1730.8" stroke="#000" stroke-width="2.2" fill="none"/>
<path d="M1803.6 103.1V142.3M1798.4 103.1H1808.8M1798.4 142.3H1808.8" stroke="#000" stroke-width="2.2" fill="none"/>
<path d="M1882 247.6V275.5M1876.8 247.6H1887.2M1876.8 275.5H1887.2" stroke="#000" stroke-width="2.2" fill="none"/>
<path d="M1592.2 522.2H2007" stroke="#000" stroke-width="2.4" fill="none"/>
<path d="M1723.7 62H1816.1M1720.3 98.9H1904.8" stroke="#000" stroke-width="2.3" fill="none"/>
<text id="fc" transform="translate(1507.2 361) rotate(-90) scale(0.945 1)" font-size="31.3">TTP (secs)</text>
<text id="s3" transform="translate(1770.9 54.6)" font-size="29.0" text-anchor="middle" letter-spacing="0.8">**</text>
<text id="s4" transform="translate(1812.2 95.5)" font-size="29.0" text-anchor="middle" letter-spacing="0.8">*</text>
</svg>
</body></html>
